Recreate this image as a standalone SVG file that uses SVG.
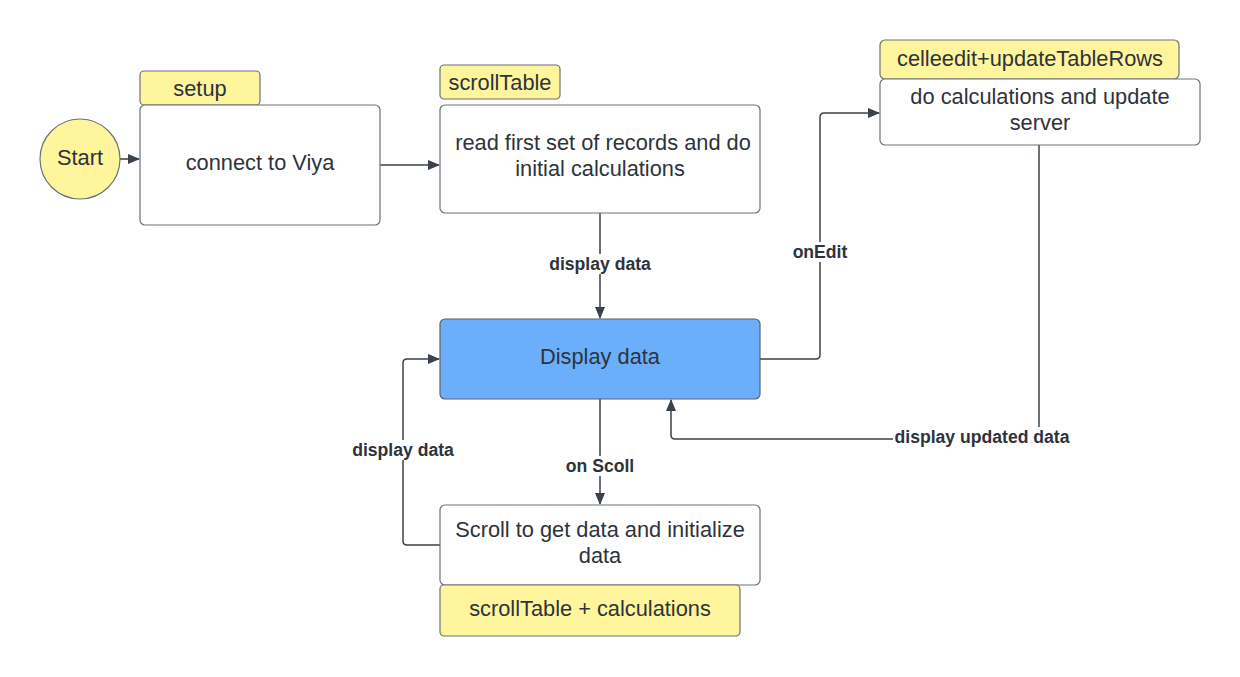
<svg xmlns="http://www.w3.org/2000/svg" width="1240" height="677" viewBox="0 0 1240 677">
<defs>
<style>
.box{fill:#ffffff;stroke:#6b727b;stroke-width:1.2}
.tag{fill:#fff59c;stroke:#6b727b;stroke-width:1.2}
.blue{fill:#6aaefc;stroke:#5a626c;stroke-width:1.2}
.t{font-family:"Liberation Sans",Arial,sans-serif;font-size:21.8px;fill:#2e333b;text-anchor:middle;dominant-baseline:central}
.lbl{font-family:"Liberation Sans",Arial,sans-serif;font-size:17.6px;font-weight:bold;fill:#2e333b;text-anchor:middle;dominant-baseline:central}
.c{fill:none;stroke:#3a414a;stroke-width:1.5}
.lb{fill:#ffffff}
</style>
<marker id="ah" viewBox="0 0 12 12" refX="11" refY="6" markerWidth="12" markerHeight="12" markerUnits="userSpaceOnUse" orient="auto">
<path d="M0,1 L12,6 L0,11 Z" fill="#3a414a"/>
</marker>
</defs>
<rect width="1240" height="677" fill="#ffffff"/>
<g id="connectors">
<path class="c" d="M120,159 L139,159" marker-end="url(#ah)"/>
<path class="c" d="M380,165 L439,165" marker-end="url(#ah)"/>
<path class="c" d="M600,213 L600,318" marker-end="url(#ah)"/>
<path class="c" d="M600,399 L600,504" marker-end="url(#ah)"/>
<path class="c" d="M440,545 L407,545 Q403,545 403,541 L403,363 Q403,359 407,359 L439,359" marker-end="url(#ah)"/>
<path class="c" d="M760,359 L816,359 Q820,359 820,355 L820,117 Q820,113 824,113 L879,113" marker-end="url(#ah)"/>
<path class="c" d="M1039,145 L1039,439 L675,439 Q671,439 671,435 L671,400" marker-end="url(#ah)"/>
<rect class="lb" x="546" y="254" width="108" height="20"/>
<text class="lbl" x="600" y="264">display data</text>
<rect class="lb" x="564" y="456" width="72" height="20"/>
<text class="lbl" x="600" y="466">on Scoll</text>
<rect class="lb" x="349" y="440" width="108" height="20"/>
<text class="lbl" x="403" y="450">display data</text>
<rect class="lb" x="791" y="242" width="58" height="20"/>
<text class="lbl" x="820" y="252">onEdit</text>
<rect class="lb" x="893" y="427" width="180" height="22"/>
<text class="lbl" x="982" y="437">display updated data</text>
</g>
<g id="start">
<circle cx="80" cy="159" r="40" fill="#fff59c" stroke="#6b727b" stroke-width="1.2"/>
<text class="t" x="80" y="157">Start</text>
</g>
<g id="setup">
<rect class="tag" x="140" y="71" width="120" height="34" rx="4"/>
<text class="t" x="200" y="88">setup</text>
</g>
<g id="connect">
<rect class="box" x="140" y="105" width="240" height="120" rx="5"/>
<text class="t" x="260" y="162">connect to Viya</text>
</g>
<g id="scrolltable-tag">
<rect class="tag" x="440" y="65" width="120" height="34" rx="4"/>
<text class="t" x="500" y="82">scrollTable</text>
</g>
<g id="read">
<rect class="box" x="440" y="105" width="320" height="108" rx="5"/>
<text class="t" x="603" y="142">read first set of records and do</text>
<text class="t" x="600" y="168">initial calculations</text>
</g>
<g id="display">
<rect class="blue" x="440" y="319" width="320" height="80" rx="5"/>
<text class="t" x="600" y="356">Display data</text>
</g>
<g id="scroll">
<rect class="box" x="440" y="505" width="320" height="80" rx="5"/>
<text class="t" x="600" y="529">Scroll to get data and initialize</text>
<text class="t" x="600" y="555">data</text>
</g>
<g id="scroll-tag">
<rect class="tag" x="440" y="585" width="300" height="51" rx="4"/>
<text class="t" x="590" y="608">scrollTable + calculations</text>
</g>
<g id="celledit-tag">
<rect class="tag" x="880" y="40" width="299" height="39" rx="5"/>
<text class="t" x="1030" y="58">celleedit+updateTableRows</text>
</g>
<g id="calc">
<rect class="box" x="880" y="79" width="320" height="66" rx="5"/>
<text class="t" x="1040" y="96">do calculations and update</text>
<text class="t" x="1040" y="122">server</text>
</g>
</svg>
